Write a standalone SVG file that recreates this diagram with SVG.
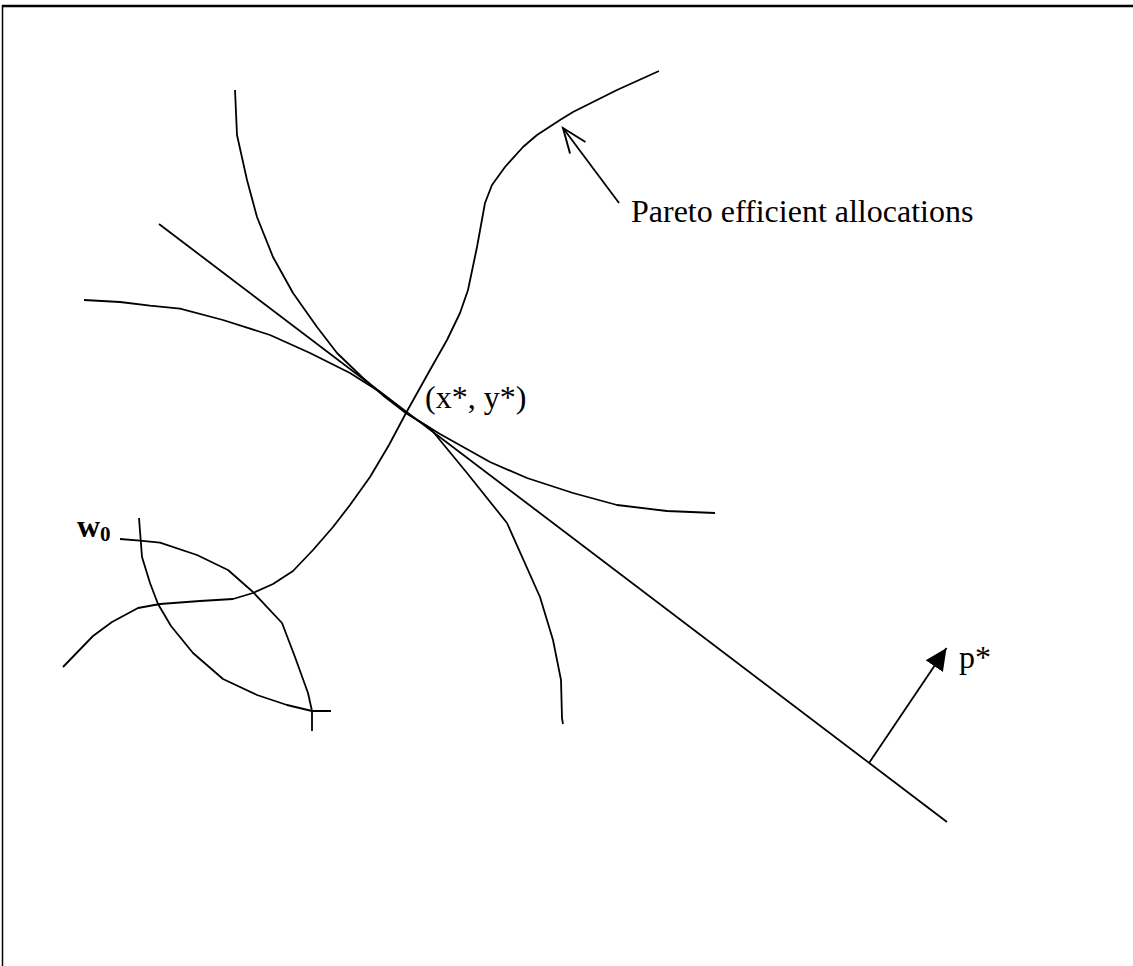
<svg xmlns="http://www.w3.org/2000/svg" width="1133" height="966" viewBox="0 0 1133 966">
<style>
.c{fill:none;stroke:#000;stroke-width:1.8;stroke-linejoin:round;stroke-linecap:butt}
.t{font-family:"Liberation Serif","Times New Roman",serif;font-size:32px;fill:#000}
</style>
<defs>
<marker id="open" markerWidth="30" markerHeight="30" refX="0" refY="0" viewBox="-26 -13 28 26" orient="auto" markerUnits="userSpaceOnUse">
<path d="M-23,-9 L0,0 L-23,9" fill="none" stroke="#000" stroke-width="1.8"/>
</marker>
<marker id="solid" markerWidth="24" markerHeight="24" refX="20" refY="0" viewBox="0 -10 22 20" orient="auto" markerUnits="userSpaceOnUse">
<path d="M0,-9.5 L20,0 L0,9.5 Z" fill="#000"/>
</marker>
</defs>
<rect width="1133" height="966" fill="#fff"/>
<g id="frame">
<line x1="2" y1="6" x2="1133" y2="6" stroke="#000" stroke-width="2.5"/>
<line x1="2.5" y1="5" x2="2.5" y2="966" stroke="#000" stroke-width="1.5"/>
</g>
<g id="price-line">
<polyline class="c" points="159,224 947,822"/>
</g>
<g id="indifference-a">
<polyline class="c" points="235,90 237,135 247,180 257,217 273,257 293,293 317,327 337,353 363,378 385,397 406,413 430,428 467,473 507,523 540,597 553,640 561,680 562,718 563,724"/>
</g>
<g id="indifference-b">
<polyline class="c" points="84,300 120,302 150,305.7 180,308.7 223,320 270,335 310,353 350,373 380,392 406,413 440,434 490,462 527,478 573,493 617,505 667,511 715,513"/>
</g>
<g id="pareto-curve">
<polyline class="c" points="63,667 93,636 112,622 138,608 160,604 200,601 233,599 253,593 273,584 293,571 313,550 333,527 350,505 370,477 389,445 406,413 430,370 447,340 460,313 468,290 477,247 485,203 492,185 505,167 523,147 537,135 560,120 573,112 617,90 659,71"/>
</g>
<g id="w0-curves">
<polyline class="c" points="120,539 140,540.7 160,542.7 197,555 228,570 253,592 282,623 295,657 308,693 312,711 331,711"/>
<polyline class="c" points="139,518 142,557 150,583 158,604 171,626 193,653 223,679 257,695 287,705 312,711 312,731"/>
</g>
<g id="connectors">
<line class="c" x1="619" y1="203" x2="563" y2="128" marker-end="url(#open)"/>
<line class="c" x1="869" y1="763" x2="946.5" y2="648" marker-end="url(#solid)"/>
</g>
<g id="labels">
<text class="t" x="631" y="222">Pareto efficient allocations</text>
<text class="t" x="425" y="408">(x*, y*)</text>
<text class="t" x="959" y="668">p*</text>
<text class="t" x="77" y="537" font-weight="bold">w<tspan font-size="21" dy="4">0</tspan></text>
</g>
</svg>
